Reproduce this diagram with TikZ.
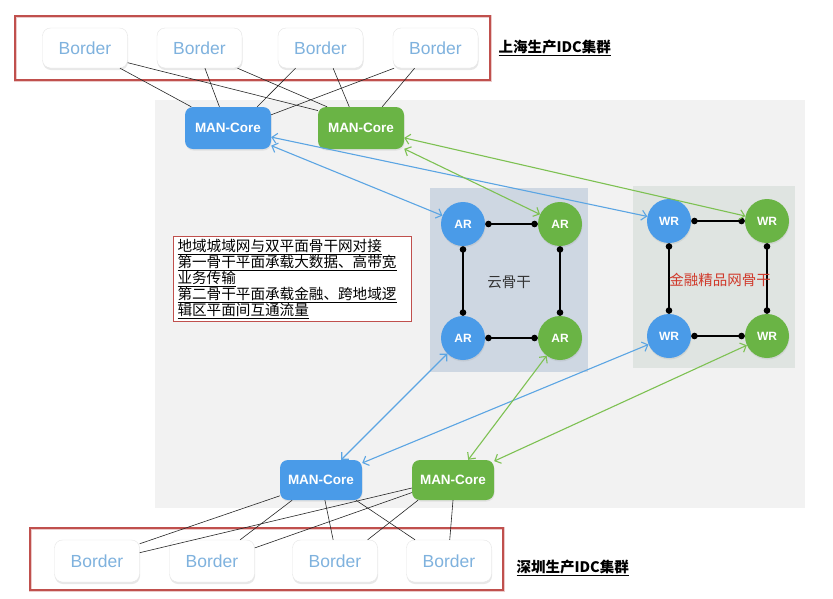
\documentclass[tikz,border=0pt]{standalone}
\usepackage{fontspec}
\setmainfont{Liberation Sans}
\newfontfamily\cjk{Noto Sans CJK SC}
\usetikzlibrary{arrows.meta,shadows}
\definecolor{bluec}{HTML}{4A9BE8}
\definecolor{greenc}{HTML}{6AB445}
\definecolor{bluea}{HTML}{5BA5E3}
\definecolor{greena}{HTML}{7DC152}
\definecolor{redb}{HTML}{C0504D}
\definecolor{bordtxt}{HTML}{7FB2DE}
\definecolor{bgg}{HTML}{F2F2F2}
\definecolor{arbox}{HTML}{CED7E2}
\definecolor{wrbox}{HTML}{DFE4E1}
\definecolor{redt}{HTML}{D0392B}
\tikzset{
  bordernode/.style={draw=gray!20, fill=white, rounded corners=8pt, minimum width=85pt, minimum height=40pt,
    font=\fontsize{17.5}{17.5}\selectfont, text=bordtxt,
    drop shadow={opacity=0.18, shadow xshift=0.5pt, shadow yshift=-2pt}},
  mancore/.style={rounded corners=8pt, minimum width=86pt, minimum height=42pt, text=white,
    font=\bfseries\fontsize{13.5}{14}\selectfont,
    drop shadow={opacity=0.15, shadow xshift=0.5pt, shadow yshift=-1.5pt}},
  rnode/.style={circle, minimum size=44pt, inner sep=0pt, text=white, font=\bfseries\fontsize{12}{12}\selectfont,
    drop shadow={opacity=0.15, shadow xshift=0.5pt, shadow yshift=-1.5pt}},
  dotline/.style={line width=1.4pt, {Circle[length=6.5pt]}-{Circle[length=6.5pt]}},
  barrow/.style={draw=bluea, line width=1.1pt, {Straight Barb[length=5pt,width=10pt]}-{Straight Barb[length=5pt,width=10pt]}},
  garrow/.style={draw=greena, line width=1.1pt, {Straight Barb[length=5pt,width=10pt]}-{Straight Barb[length=5pt,width=10pt]}},
  thinline/.style={draw=black!85, line width=0.6pt},
  redbox/.style={draw=redb, line width=1.4pt},
  cluster/.style={font=\cjk\bfseries\fontsize{14.5}{15}\selectfont, anchor=west}
}
\begin{document}
\begin{tikzpicture}[x=1pt,y=-1pt]
\useasboundingbox (0,0) rectangle (833,598);
\fill[white] (0,0) rectangle (833,598);
% grey background
\fill[bgg] (155,100) rectangle (805,508);
% red cluster boxes
\draw[redb!30, line width=3pt] (15,16) rectangle (490,80);
\draw[redbox] (15,16) rectangle (490,80);
\draw[redb!30, line width=3pt] (30,528) rectangle (503,590);
\draw[redbox] (30,528) rectangle (503,590);
% backbone boxes
\fill[arbox] (430,188) rectangle (588,372);
\fill[wrbox] (633,186) rectangle (795,368);

% top borders
\node[bordernode] (tb1) at (85,48) {Border};
\node[bordernode] (tb2) at (199.5,48) {Border};
\node[bordernode] (tb3) at (320.5,48) {Border};
\node[bordernode] (tb4) at (435.5,48) {Border};
\node[cluster] (sh) at (495,48) {\underline{上海生产IDC集群}};

% top MAN-Core
\node[mancore, fill=bluec] (mt1) at (228,128) {MAN-Core};
\node[mancore, fill=greenc] (mt2) at (361,128) {MAN-Core};

% bottom MAN-Core
\node[mancore, fill=bluec, minimum width=82pt, minimum height=40pt] (mb1) at (321,480) {MAN-Core};
\node[mancore, fill=greenc, minimum width=82pt, minimum height=40pt] (mb2) at (453,480) {MAN-Core};

% bottom borders
\node[bordernode, minimum height=42pt] (bb1) at (97,561) {Border};
\node[bordernode, minimum height=42pt] (bb2) at (212,561) {Border};
\node[bordernode, minimum height=42pt] (bb3) at (335,561) {Border};
\node[bordernode, minimum height=42pt] (bb4) at (449,561) {Border};
\node[cluster] (sz) at (513,568) {\underline{深圳生产IDC集群}};

% top lines
\draw[thinline] (tb1.-30) -- (mt1.150);
\draw[thinline] (tb1.-19) -- (mt2.158);
\draw[thinline] (tb2.-75) -- (mt1.112);
\draw[thinline] (tb2.-28) -- (mt2.148);
\draw[thinline] (tb3.219) -- (mt1.36);
\draw[thinline] (tb3.-58) -- (mt2.119);
\draw[thinline] (tb4.206) -- (mt1.17);
\draw[thinline] (tb4.224) -- (mt2.45);

% bottom lines
\draw[thinline] (mb1.201) -- (bb1.22);
\draw[thinline] (mb2.191) -- (bb1.11);
\draw[thinline] (mb2.197) -- (bb2.17);
\draw[thinline] (mb1.215) -- (bb2.37);
\draw[thinline] (mb1.281) -- (bb3.95);
\draw[thinline] (mb2.210) -- (bb3.33);
\draw[thinline] (mb1.330) -- (bb4.148);
\draw[thinline] (mb2.270) -- (bb4.88);

% AR nodes
\node[rnode, fill=bluec] (ar1) at (463,224) {AR};
\node[rnode, fill=greenc] (ar2) at (560,224) {AR};
\node[rnode, fill=bluec] (ar3) at (463,338) {AR};
\node[rnode, fill=greenc] (ar4) at (560,338) {AR};
\node[font=\cjk\fontsize{14.5}{15}\selectfont, text=black!80] (yun) at (509,282) {云骨干};

% WR nodes
\node[rnode, fill=bluec] (wr1) at (669,221) {WR};
\node[rnode, fill=greenc] (wr2) at (767,221) {WR};
\node[rnode, fill=bluec] (wr3) at (669,336) {WR};
\node[rnode, fill=greenc] (wr4) at (767,336) {WR};

% square links
\draw[dotline] (ar1) -- (ar2);
\draw[dotline] (ar3) -- (ar4);
\draw[dotline] (ar1) -- (ar3);
\draw[dotline] (ar2) -- (ar4);
\draw[dotline] (wr1) -- (wr2);
\draw[dotline] (wr3) -- (wr4);
\draw[dotline] (wr1) -- (wr3);
\draw[dotline] (wr2) -- (wr4);
\node[font=\cjk\fontsize{14.5}{15}\selectfont, text=redt] (jr) at (720,280) {金融精品网骨干};

% arrows
\draw[barrow] (mt1) -- (ar1);
\draw[barrow] (mt1) -- (wr1);
\draw[garrow] (mt2) -- (ar2);
\draw[garrow] (mt2) -- (wr2);
\draw[barrow] (mb1) -- (ar3);
\draw[barrow] (mb1) -- (wr3);
\draw[garrow] (mb2) -- (ar4);
\draw[garrow] (mb2) -- (wr4);

% text box
\node[draw=redb, line width=1pt, fill=white, anchor=north west, text width=230pt, align=left,
  inner xsep=4pt, inner ysep=3pt, minimum height=82pt,
  font=\cjk\fontsize{14.6}{16}\selectfont, text=black] (note) at (173,236)
  {\underline{地域城域网与双平面骨干网对接}\\
   \underline{第一骨干平面承载大数据、高带宽}\\
   \underline{业务传输}\\
   \underline{第二骨干平面承载金融、跨地域逻}\\
   \underline{辑区平面间互通流量}};
\end{tikzpicture}
\end{document}
